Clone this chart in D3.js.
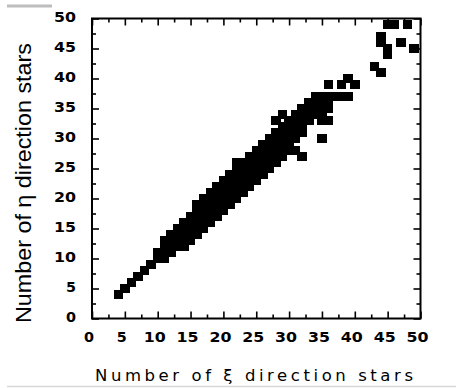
<!DOCTYPE html>
<html><head><meta charset="utf-8">
<script src="https://cdn.jsdelivr.net/npm/d3@7"></script>
<style>body{margin:0;background:#fff;overflow:hidden}</style>
</head><body>
<svg id="c" width="456" height="388"></svg>
<script>
// ---- data ----
const majorTicks = [0,5,10,15,20,25,30,35,40,45,50];
const minorTicks = [2.5,7.5,12.5,17.5,22.5,27.5,32.5,37.5,42.5,47.5];
const xiColumns = [4,5,6,7,8,9,10,11,12,13,14,15,16,17,18,19,20,21,22,23,24,25,26,27,28,29,30,31,32,33,34,35,36,37,38,39,40,43,44,45,46,47,48,49];
const etaPerColumn = [
  [4],[5],[6],[7],[8],[9],[10,11],[10,11,12,13],[11,12,13,14],[12,13,14,15],
  [12,13,14,15,16],[13,14,15,16,17],[14,15,16,17,18,19],[15,16,17,18,19,20],
  [16,17,18,19,20,21],[17,18,19,20,21,22],[18,19,20,21,22,23],[19,20,21,22,23,24],
  [20,21,22,23,24,25,26],[21,22,23,24,25,26],[22,23,24,25,26,27],[23,24,25,26,27,28],
  [24,25,26,27,28,29],[25,26,27,28,29,30],[26,27,28,29,30,31,33],[27,28,29,30,31,32,34],
  [28,29,30,31,32,33],[28,30,31,32,33,34],[27,31,32,33,34,35],[33,34,35,36],
  [34,35,36,37],[30,33,34,35,36,37],[33,35,36,37,39],[37],[37,39],[37,40],[39],
  [42],[41,46,47],[44,45,49],[49],[46],[49],[45]
];
const xTitle = "Number of \u03BE direction stars";
const yTitle = "Number of \u03B7 direction stars";

// ---- drawing ----
const svg = d3.select("#c");
const x = d3.scaleLinear().domain([0,50]).range([92,420.5]);
const y = d3.scaleLinear().domain([0,50]).range([318.5,18.5]);

const points = [];
xiColumns.forEach((xi,i)=>etaPerColumn[i].forEach(eta=>points.push({xi,eta})));

// decorations
svg.append("rect").attr("x",7).attr("y",4.5).attr("width",45).attr("height",3).attr("fill","#bdbdbd");
svg.append("line").attr("x1",7).attr("x2",456).attr("y1",386.5).attr("y2",386.5).attr("stroke","#d8d8d8").attr("stroke-width",1.5);

// markers
const mw = 9.5, mh = 8.5;
svg.append("g").attr("shape-rendering","crispEdges").selectAll("rect").data(points).join("rect")
  .attr("x",d=>x(d.xi)-mw/2).attr("y",d=>y(d.eta)-mh/2)
  .attr("width",mw).attr("height",mh).attr("fill","#000");

function styleAxis(g){
  g.select(".domain").remove();
  g.selectAll("line").attr("stroke","#000").attr("stroke-width",1.6);
}
const H = 318.5, T = 18.5, L = 92, R = 420.5;
// major ticks
svg.append("g").attr("transform",`translate(0,${H})`)
  .call(d3.axisBottom(x).tickValues(majorTicks).tickSize(-7).tickFormat("")).call(styleAxis);
svg.append("g").attr("transform",`translate(0,${T})`)
  .call(d3.axisTop(x).tickValues(majorTicks).tickSize(-7).tickFormat("")).call(styleAxis);
svg.append("g").attr("transform",`translate(${L},0)`)
  .call(d3.axisLeft(y).tickValues(majorTicks).tickSize(-7).tickFormat("")).call(styleAxis);
svg.append("g").attr("transform",`translate(${R},0)`)
  .call(d3.axisRight(y).tickValues(majorTicks).tickSize(-7).tickFormat("")).call(styleAxis);
// minor ticks
svg.append("g").attr("transform",`translate(0,${H})`)
  .call(d3.axisBottom(x).tickValues(minorTicks).tickSize(-4).tickFormat("")).call(styleAxis);
svg.append("g").attr("transform",`translate(0,${T})`)
  .call(d3.axisTop(x).tickValues(minorTicks).tickSize(-4).tickFormat("")).call(styleAxis);
svg.append("g").attr("transform",`translate(${L},0)`)
  .call(d3.axisLeft(y).tickValues(minorTicks).tickSize(-4).tickFormat("")).call(styleAxis);
svg.append("g").attr("transform",`translate(${R},0)`)
  .call(d3.axisRight(y).tickValues(minorTicks).tickSize(-4).tickFormat("")).call(styleAxis);

// frame
svg.append("rect").attr("x",L).attr("y",T).attr("width",R-L).attr("height",H-T)
  .attr("fill","none").attr("stroke","#000").attr("stroke-width",2);

// tick labels
const labFont = "'DejaVu Sans', sans-serif";
svg.append("g").selectAll("text").data(majorTicks).join("text")
  .attr("x",d=>x(d)-3).attr("y",342)
  .attr("text-anchor","middle")
  .attr("font-family",labFont).attr("font-size",14).attr("font-weight","bold")
  .attr("textLength",d=>String(d).length===1?10:22).attr("lengthAdjust","spacingAndGlyphs")
  .text(d=>d);
svg.append("g").selectAll("text").data(majorTicks).join("text")
  .attr("x",76).attr("y",d=>y(d)+3.5)
  .attr("text-anchor","end")
  .attr("font-family",labFont).attr("font-size",14).attr("font-weight","bold")
  .attr("textLength",d=>String(d).length===1?10:22).attr("lengthAdjust","spacingAndGlyphs")
  .text(d=>d);

// axis titles
svg.append("text").attr("x",95).attr("y",381)
  .attr("font-family",labFont).attr("font-size",16.5)
  .attr("textLength",318).attr("lengthAdjust","spacing")
  .text(xTitle);
svg.append("text").attr("transform","translate(31,323) rotate(-90)")
  .attr("x",0).attr("y",0)
  .attr("font-family","'Liberation Sans', Arial, sans-serif").attr("font-size",22.5)
  .attr("textLength",280).attr("lengthAdjust","spacingAndGlyphs")
  .text(yTitle);
</script>
</body></html>
